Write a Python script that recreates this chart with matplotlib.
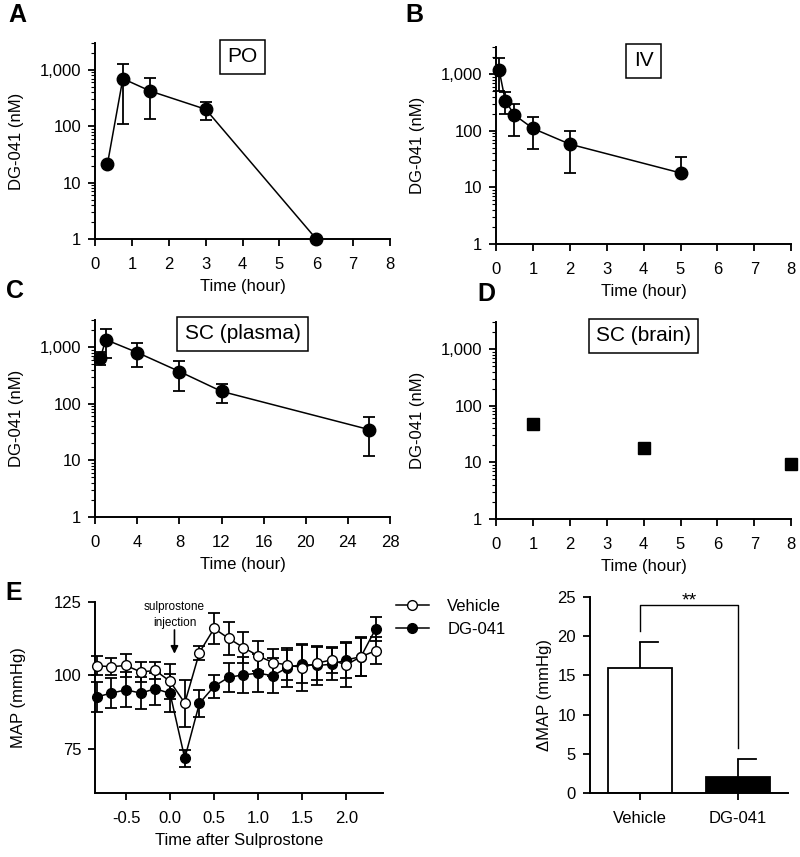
import numpy as np
import matplotlib
matplotlib.use("Agg")
from matplotlib import pyplot as plt
from matplotlib import ticker
from matplotlib.lines import Line2D

plt.rcParams['font.family'] = ['Liberation Sans', 'DejaVu Sans']
plt.rcParams['font.size'] = 12

# --- data ---
po_t = [0.33, 0.75, 1.5, 3, 6]
po_c = [21, 700, 420, 200, 1]
po_err = [0, 590, 285, 70, 0]

iv_t = [0.083, 0.25, 0.5, 1, 2, 5]
iv_c = [1200, 340, 190, 110, 58, 18]
iv_lo = [700, 145, 110, 63, 40, 0]
iv_hi = [750, 150, 110, 65, 40, 17]

scp_t = [0.5, 1, 4, 8, 12, 26]
scp_c = [650, 1350, 800, 370, 165, 35]
scp_err = [160, 720, 360, 200, 60, 23]

scb_t = [1, 4, 8]
scb_c = [47, 18, 9.3]

map_t = [-0.833, -0.667, -0.5, -0.333, -0.167, 0.0, 0.167, 0.333, 0.5, 0.667,
         0.833, 1.0, 1.167, 1.333, 1.5, 1.667, 1.833, 2.0, 2.167, 2.333]
veh = [103.3, 103.0, 103.4, 101.2, 101.7, 98.0, 90.6, 107.8, 116.0, 112.6,
       109.5, 106.7, 104.4, 103.6, 102.7, 104.2, 105.3, 103.6, 106.4, 108.4]
veh_err = [3.2, 3.0, 4.0, 3.4, 3.0, 6.0, 8.0, 2.4, 5.4, 5.6,
           5.4, 5.2, 4.5, 5.0, 8.0, 5.6, 4.5, 7.5, 6.6, 4.6]
dg = [92.7, 94.0, 95.1, 94.0, 95.5, 93.9, 71.8, 90.5, 96.3, 99.4,
      100.2, 100.8, 99.9, 102.7, 103.8, 103.4, 103.8, 105.3, 106.4, 115.8]
dg_err = [5.0, 5.0, 6.0, 5.5, 5.5, 6.5, 3.0, 4.5, 4.0, 5.0,
          6.0, 6.5, 6.0, 6.5, 6.5, 6.5, 5.5, 6.0, 6.5, 4.0]

groups = ['Vehicle', 'DG-041']
dmap = [16.0, 2.0]
dmap_err = [3.2, 2.35]


def style(ax):
    for s in ['top', 'right']:
        ax.spines[s].set_visible(False)
    for s in ['left', 'bottom']:
        ax.spines[s].set_linewidth(1.4)
    ax.tick_params(which='major', width=1.3, length=5, direction='out', labelsize=12, pad=5)
    ax.tick_params(axis='x', which='major', pad=8)
    ax.tick_params(which='minor', width=0.8, length=3)
    ax.xaxis.labelpad = 5


def logpanel(ax, xmax, xstep, box):
    ax.set_yscale('log')
    ax.set_ylim(1, 3000)
    ax.set_xlim(0, xmax)
    ax.set_xticks(np.arange(0, xmax + 0.1, xstep))
    ax.yaxis.set_major_locator(ticker.FixedLocator([1, 10, 100, 1000]))
    ax.yaxis.set_major_formatter(ticker.FuncFormatter(lambda v, p: '{:,.0f}'.format(v)))
    ax.yaxis.set_minor_locator(ticker.LogLocator(base=10, subs=np.arange(2, 10)))
    ax.yaxis.set_minor_formatter(ticker.NullFormatter())
    ax.set_ylabel('DG-041 (nM)', fontsize=12)
    ax.set_xlabel('Time (hour)', fontsize=12)
    ax.yaxis.set_label_coords(-0.24, 0.5)
    style(ax)
    ax.text(0.5, 0.93, box, transform=ax.transAxes, ha='center', va='center', fontsize=15,
            bbox=dict(boxstyle='square,pad=0.35', fc='white', ec='black', lw=1.1))


fig = plt.figure(figsize=(8, 8.57), dpi=100)

axA = fig.add_axes([0.119, 0.7211, 0.3685, 0.2287])
axB = fig.add_axes([0.62, 0.7153, 0.369, 0.2297])
axC = fig.add_axes([0.119, 0.3967, 0.3685, 0.2299])
axD = fig.add_axes([0.62, 0.3944, 0.369, 0.2299])
axE = fig.add_axes([0.119, 0.0747, 0.36, 0.2228])
axF = fig.add_axes([0.7375, 0.0747, 0.2475, 0.2287])

kw = dict(color='black', marker='o', ms=9, lw=1.1, capsize=4.5, elinewidth=1.3,
          capthick=1.3, clip_on=False, zorder=3)

axA.errorbar(po_t, po_c, yerr=po_err, **kw)
logpanel(axA, 8, 1, 'PO')

axB.errorbar(iv_t, iv_c, yerr=[iv_lo, iv_hi], **kw)
logpanel(axB, 8, 1, 'IV')

axC.errorbar(scp_t, scp_c, yerr=scp_err, **kw)
logpanel(axC, 28, 4, 'SC (plasma)')

axD.plot(scb_t, scb_c, ls='none', marker='s', ms=8, color='black', clip_on=False, zorder=3)
logpanel(axD, 8, 1, 'SC (brain)')

# panel E, MAP time course
ekw = dict(marker='o', ms=7, lw=1.1, capsize=4.5, elinewidth=1.3, capthick=1.3,
           color='black', clip_on=False)
axE.errorbar(map_t, veh, yerr=veh_err, mfc='white', mec='black', zorder=4, **ekw)
axE.errorbar(map_t, dg, yerr=dg_err, mfc='black', zorder=3, **ekw)
axE.set_xlim(-0.85, 2.42)
axE.set_ylim(60, 125)
axE.set_xticks([-0.5, 0.0, 0.5, 1.0, 1.5, 2.0])
axE.xaxis.set_major_formatter(ticker.FormatStrFormatter('%.1f'))
axE.set_yticks([75, 100, 125])
axE.set_ylabel('MAP (mmHg)', fontsize=12)
axE.set_xlabel('Time after Sulprostone', fontsize=12)
axE.yaxis.set_label_coords(-0.24, 0.5)
style(axE)
axE.text(0.05, 120.6, 'sulprostone\ninjection', ha='center', va='center', fontsize=8.5,
         linespacing=1.35)
axE.annotate('', xy=(0.05, 107.4), xytext=(0.05, 115.5),
             arrowprops=dict(arrowstyle='-|>', color='black', lw=1.2, shrinkA=0, shrinkB=0,
                             mutation_scale=11))
handles = [Line2D([], [], color='black', lw=1.1, marker='o', ms=7, mfc='white', mec='black'),
           Line2D([], [], color='black', lw=1.1, marker='o', ms=7, mfc='black')]
axE.legend(handles, groups, loc='upper left', bbox_to_anchor=(1.02, 1.05), frameon=False,
           fontsize=12, handlelength=2.0, handletextpad=1.1, borderaxespad=0,
           labelspacing=0.45)

# panel E, delta MAP bars
xpos = np.arange(len(groups))
axF.bar(xpos, dmap, width=0.66, color=['white', 'black'], edgecolor='black', lw=1.3, zorder=2)
axF.errorbar(xpos, dmap, yerr=[[0, 0], dmap_err], ls='none', color='black',
             capsize=0, elinewidth=1.3, zorder=1)
for xi, yi, ei in zip(xpos, dmap, dmap_err):
    axF.plot([xi, xi + 0.18], [yi + ei, yi + ei], color='black', lw=1.3)
axF.set_xlim(-0.51, 1.51)
axF.set_ylim(0, 25)
axF.set_xticks(xpos)
axF.set_xticklabels(groups)
axF.set_yticks([0, 5, 10, 15, 20, 25])
axF.set_ylabel('ΔMAP (mmHg)', fontsize=12)
style(axF)
axF.plot([0, 0, 1, 1], [20.6, 24.0, 24.0, 5.7], color='black', lw=1.0, clip_on=False)
axF.text(0.5, 24.5, '**', ha='center', va='center', fontsize=14)

# panel letters
for lab, x, y in [('A', 0.01, 0.982), ('B', 0.507, 0.982), ('C', 0.007, 0.661),
                  ('D', 0.597, 0.657), ('E', 0.007, 0.308)]:
    fig.text(x, y, lab, fontsize=18, fontweight='bold', ha='left', va='center')

fig.savefig('out.png', dpi=100)
